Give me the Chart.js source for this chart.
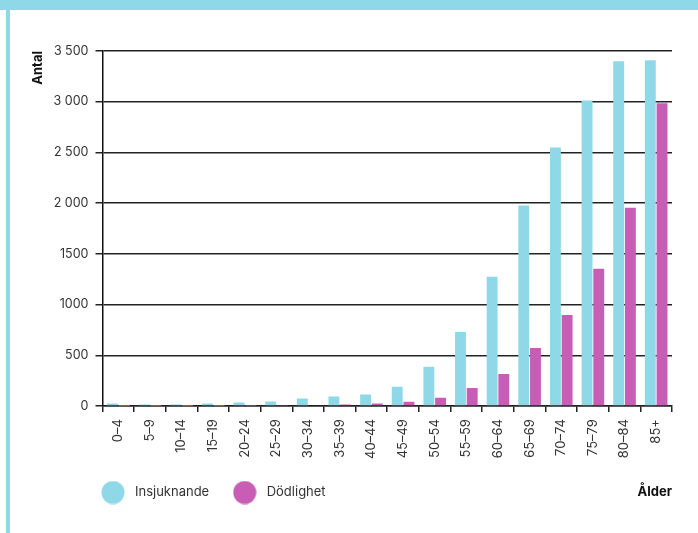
<!DOCTYPE html>
<html>
<head>
<meta charset="utf-8">
<script src="https://cdn.jsdelivr.net/npm/chart.js@4"></script>
<style>
  html, body { margin: 0; padding: 0; background: #fff; }
  body { width: 698px; height: 533px; position: relative; overflow: hidden; }
  #topbar { position: absolute; left: 0; top: 0; width: 698px; height: 10px; background: #8fd8e8; }
  #leftbar { position: absolute; left: 6px; top: 10px; width: 4px; height: 523px; background: #8fd8e8; }
  #wrap { position: absolute; left: 10px; top: 10px; width: 688px; height: 523px; }
</style>
</head>
<body>
<div id="topbar"></div>
<div id="leftbar"></div>
<div id="wrap"><canvas id="chartJS"></canvas></div>
<script>
const ageGroups = [
    '0–4', '5–9', '10–14', '15–19', '20–24', '25–29', '30–34', '35–39', '40–44',
    '45–49', '50–54', '55–59', '60–64', '65–69', '70–74', '75–79', '80–84', '85+'
];

// Insjuknande per åldersgrupp
const incidence = [26, 16, 16, 26, 36, 46, 76, 95, 115, 190, 388, 731, 1274, 1976, 2549, 3013, 3398, 3408];

// Dödlighet per åldersgrupp
const mortality = [1, 1, 1, 2, 3, 5, 8, 16, 26, 44, 82, 178, 316, 573, 899, 1353, 1956, 2984];

const yTickLabels = ['0', '500', '1000', '1500', '2 000', '2 500', '3 000', '3 500'];

const cyan = '#8fd8e8';
const magenta = '#c75db5';
const fontFamily = 'Inter, "Noto Sans", sans-serif';

// cirkel som legendsymbol
function dot(color) {
    const c = document.createElement('canvas');
    c.width = 24;
    c.height = 24;
    const ctx = c.getContext('2d');
    ctx.fillStyle = color;
    ctx.beginPath();
    ctx.arc(12, 12, 11.5, 0, Math.PI * 2);
    ctx.fill();
    return c;
}

// flytta legenden så att den börjar under diagrammet, och skriv "Ålder" till höger
const legendAndTitle = {
    id: 'legendAndTitle',
    afterLayout(chart) {
        chart.legend.left = chart.chartArea.left - 25;
    },
    afterDraw(chart) {
        const ctx = chart.ctx;
        const legend = chart.legend;
        const box = legend.legendHitBoxes[0];
        const y = box ? box.top + box.height / 2 : legend.bottom - 20;
        ctx.save();
        ctx.font = 'bold 13px ' + fontFamily;
        ctx.fillStyle = '#111';
        ctx.textAlign = 'right';
        ctx.textBaseline = 'middle';
        ctx.fillText('Ålder', chart.chartArea.right, y);
        ctx.restore();
    }
};

const data = {
    labels: ageGroups,
    datasets: [{
        label: 'Insjuknande',
        data: incidence,
        backgroundColor: cyan,
        categoryPercentage: 0.74,
        barPercentage: 0.93
    },
    {
        label: 'Dödlighet',
        data: mortality,
        backgroundColor: magenta,
        categoryPercentage: 0.74,
        barPercentage: 0.93
    }]
};

const config = {
    type: 'bar',
    data: data,
    plugins: [legendAndTitle],
    options: {
        responsive: true,
        maintainAspectRatio: false,
        animation: false,
        layout: {
            padding: { top: 41, right: 26, left: 20, bottom: 24 }
        },
        plugins: {
            tooltip: { enabled: false },
            legend: {
                position: 'bottom',
                align: 'start',
                labels: {
                    usePointStyle: true,
                    pointStyleWidth: 31,
                    padding: 20,
                    color: '#333',
                    font: { family: fontFamily, size: 13 },
                    generateLabels(chart) {
                        const items = Chart.defaults.plugins.legend.labels.generateLabels(chart);
                        items.forEach((item, i) => {
                            item.pointStyle = dot(chart.data.datasets[i].backgroundColor);
                        });
                        return items;
                    }
                }
            }
        },
        scales: {
            x: {
                grid: {
                    drawOnChartArea: false,
                    tickLength: 6,
                    color: '#222',
                    lineWidth: 1.5
                },
                border: { color: '#222', width: 1.5 },
                ticks: {
                    minRotation: 90,
                    maxRotation: 90,
                    color: '#333',
                    padding: 7,
                    font: { family: fontFamily, size: 13 }
                }
            },
            y: {
                min: 0,
                max: 3500,
                grid: {
                    color: '#222',
                    lineWidth: 1.5,
                    tickLength: 7
                },
                border: { color: '#111', width: 1.5 },
                ticks: {
                    stepSize: 500,
                    color: '#333',
                    padding: 7,
                    font: { family: fontFamily, size: 12.5 },
                    callback: (value, index) => yTickLabels[index]
                },
                title: {
                    display: true,
                    text: 'Antal',
                    align: 'end',
                    color: '#111',
                    padding: { top: 0, bottom: 1 },
                    font: { family: fontFamily, size: 13, weight: 'bold' }
                }
            }
        }
    }
};

const myChart = new Chart(
    document.getElementById('chartJS'),
    config
);
</script>
</body>
</html>
